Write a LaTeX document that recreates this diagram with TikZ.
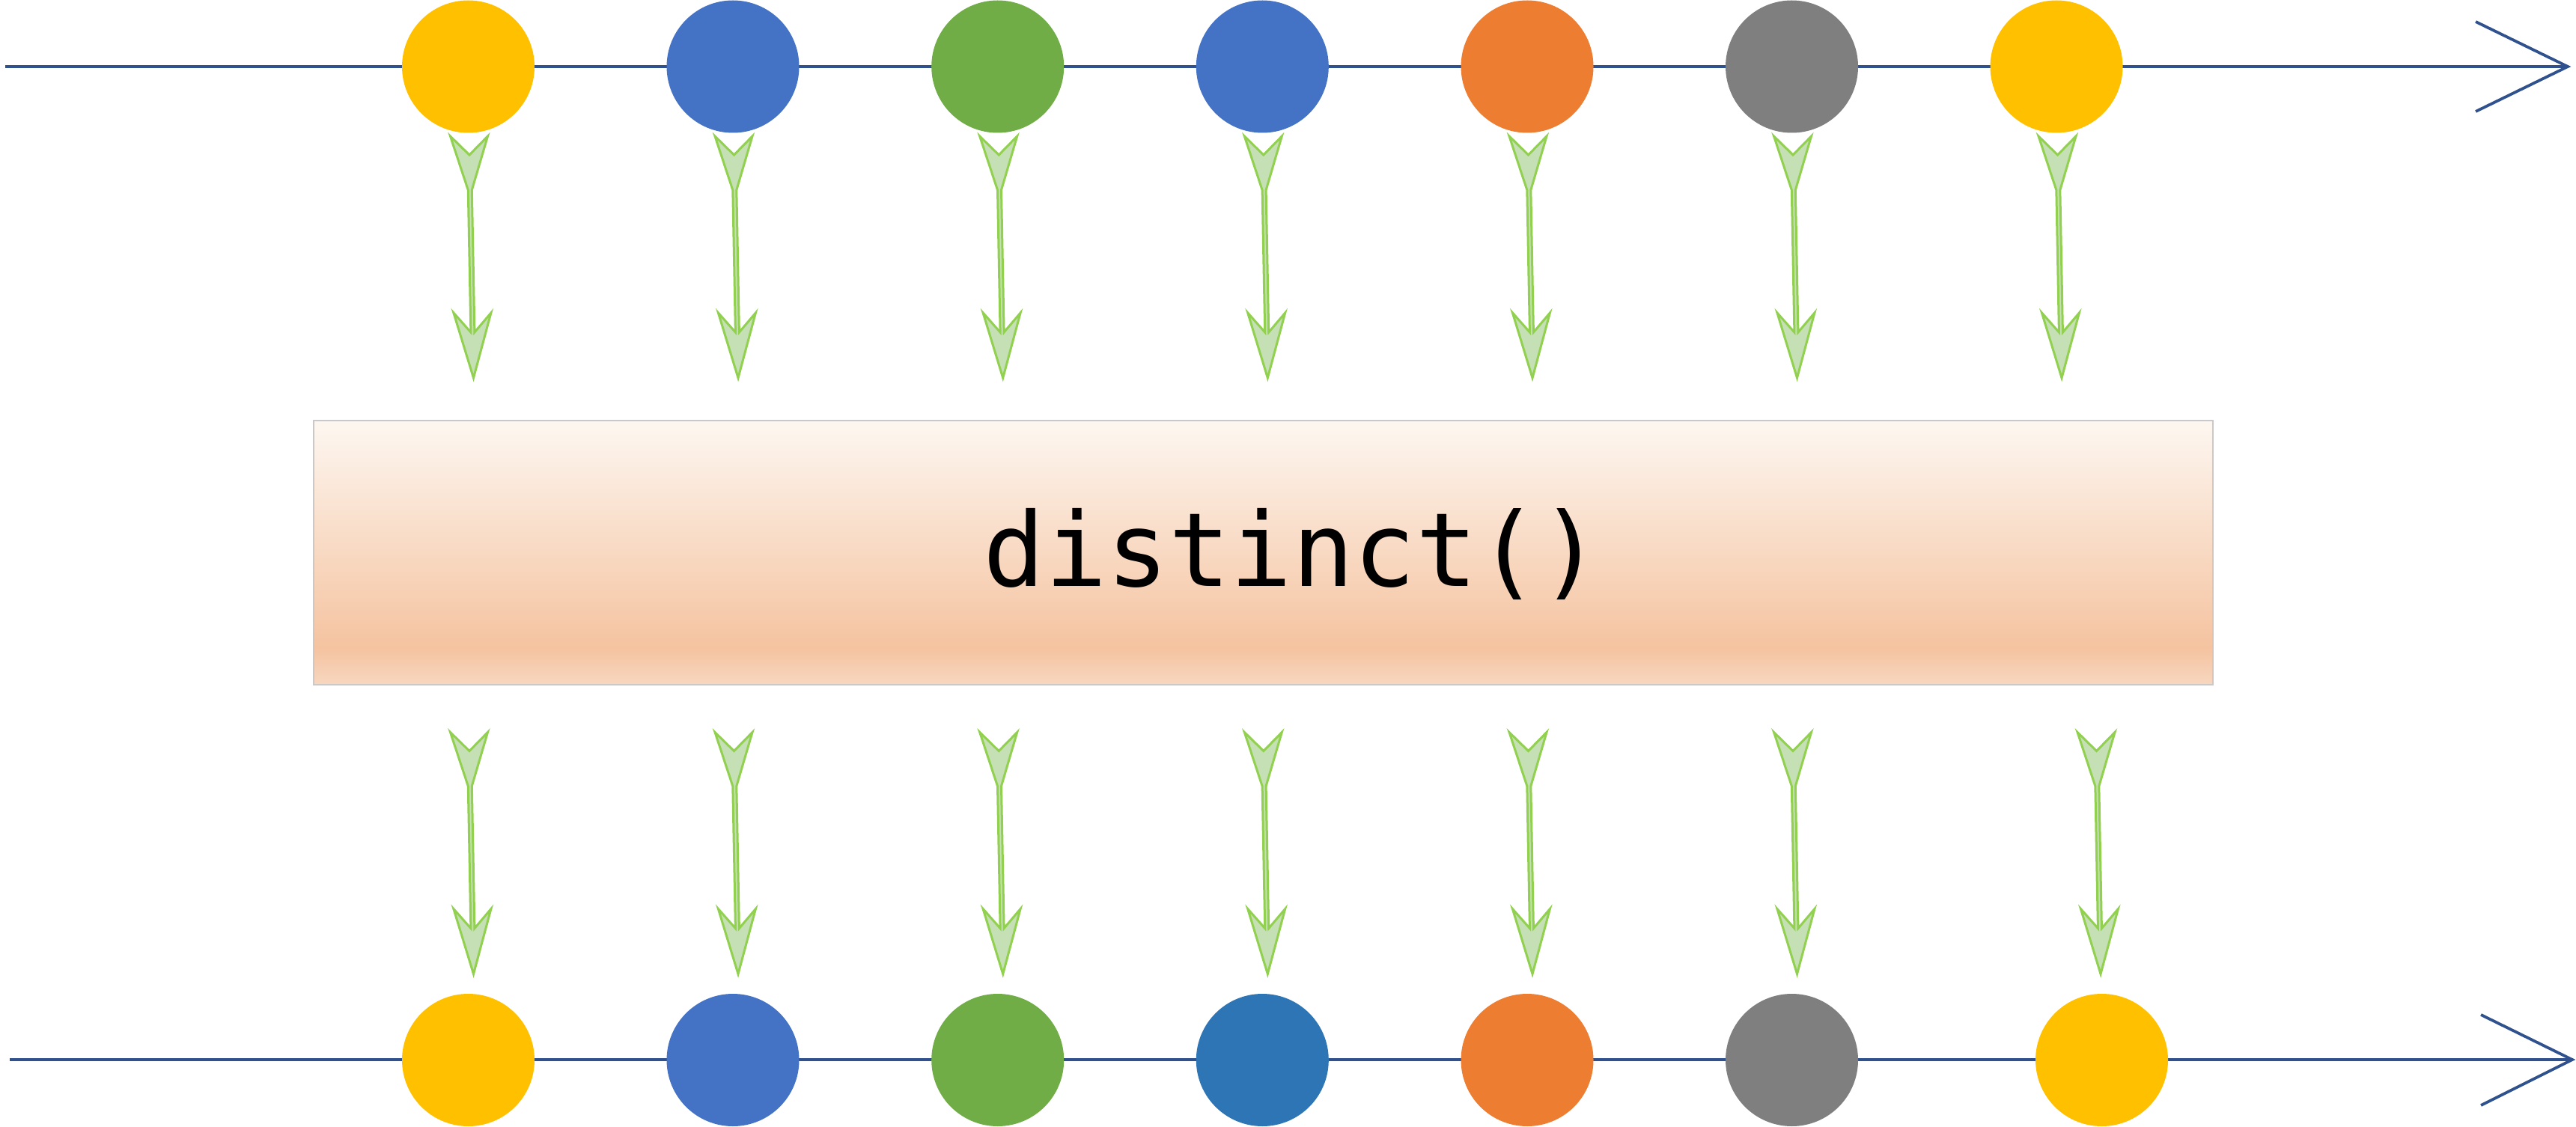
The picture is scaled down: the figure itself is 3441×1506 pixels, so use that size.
\documentclass[tikz,border=0pt]{standalone}
\usepackage{fontspec}
\newfontfamily\codefont{DejaVu Sans Mono}
\usetikzlibrary{calc}
\definecolor{axisblue}{HTML}{2F528F}
\definecolor{cyellow}{HTML}{FFC000}
\definecolor{cblue}{HTML}{4472C4}
\definecolor{cgreen}{HTML}{70AD47}
\definecolor{corange}{HTML}{ED7D31}
\definecolor{cgray}{HTML}{7F7F7F}
\definecolor{cdblue}{HTML}{2E75B6}
\definecolor{arrowline}{HTML}{92D050}
\definecolor{arrowfill}{HTML}{C5E0B4}
\definecolor{boxborder}{HTML}{C9C9C9}
\definecolor{shB}{HTML}{F7D7C0}
\definecolor{shD}{HTML}{F5C3A0}
\definecolor{shT}{HTML}{FDF7F1}
\pgfdeclareverticalshading{opshade}{100bp}{color(0bp)=(shB); color(25bp)=(shB); color(32bp)=(shD); color(75bp)=(shT); color(100bp)=(shT)}
\begin{document}
\begin{tikzpicture}[x=0.1mm,y=-0.1mm,
  axisline/.style={draw=axisblue,line width=0.38mm},
  ball/.style={circle,minimum size=17.7mm,inner sep=0pt,fill=#1},
  garrowstyle/.style={draw=arrowline,fill=arrowfill,line width=0.3mm,line join=miter},
  garrow/.pic={\path[garrowstyle] (-25,0) -- (0.5,25) -- (25,0) -- (3.8,72) -- (7.4,262) -- (29.4,236) -- (6,323) -- (-20.6,236) -- (2.4,262) -- (-1.2,72) -- cycle;},
  opbox/.style={draw=boxborder,line width=0.15mm,shading=opshade,minimum width=253.7mm,minimum height=35.3mm,inner sep=0pt}]
\useasboundingbox (0,0) rectangle (3441,1506);
% top time line
\coordinate (ts) at (7,89);
\coordinate (te) at (3430,89);
\draw[axisline] (ts) -- (te);
\draw[axisline] ($(te)+(-123,-60)$) -- (te) -- ($(te)+(-123,60)$);
% bottom time line
\coordinate (bs) at (13,1416);
\coordinate (be) at (3436,1416);
\draw[axisline] (bs) -- (be);
\draw[axisline] ($(be)+(-122,-60)$) -- (be) -- ($(be)+(-122,61)$);
% top marbles
\node[ball=cyellow] (t1) at (625.5,89) {};
\node[ball=cblue]   (t2) at (979,89) {};
\node[ball=cgreen]  (t3) at (1332.7,89) {};
\node[ball=cblue]   (t4) at (1686.3,89) {};
\node[ball=corange] (t5) at (2040,89) {};
\node[ball=cgray]   (t6) at (2393.5,89) {};
\node[ball=cyellow] (t7) at (2747,89) {};
% bottom marbles
\node[ball=cyellow] (b1) at (625.5,1416.5) {};
\node[ball=cblue]   (b2) at (979,1416.5) {};
\node[ball=cgreen]  (b3) at (1332.7,1416.5) {};
\node[ball=cdblue]  (b4) at (1686.3,1416.5) {};
\node[ball=corange] (b5) at (2040,1416.5) {};
\node[ball=cgray]   (b6) at (2393.5,1416.5) {};
\node[ball=cyellow] (b7) at (2807.5,1416.5) {};
% operator box
\node[opbox] (op) at (1687.5,738.5) {};
\node[anchor=base west,inner sep=0pt,font=\codefont\fontsize{39pt}{40pt}\selectfont] (lbl) at (1313,783) {distinct()};
% arrows into the operator
\foreach \i in {1,...,7} {
  \path ($(t\i.center)+(1,93)$) pic {garrow};
}
% arrows out of the operator
\foreach \i in {1,...,6} {
  \path ($(b\i.center)+(1,-438)$) pic {garrow};
}
\path ($(b7.center)+(-7.5,-438)$) pic {garrow};
\end{tikzpicture}
\end{document}
